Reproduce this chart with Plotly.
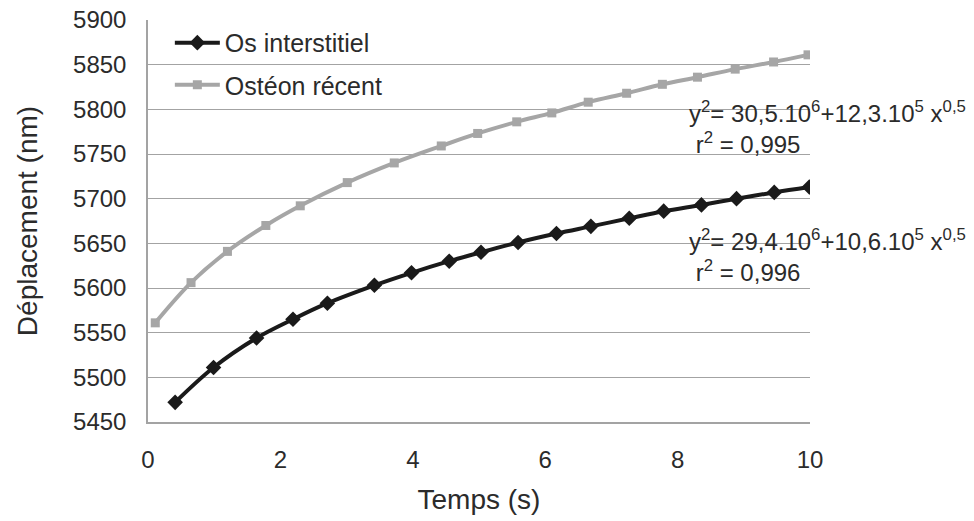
import plotly.graph_objects as go

# Os interstitiel (black, diamonds)
t_os = [0.41, 0.99, 1.64, 2.19, 2.71, 3.42, 3.98, 4.55, 5.03, 5.59, 6.17, 6.69, 7.27, 7.79, 8.36, 8.89, 9.46, 9.99]
d_os = [5472, 5511, 5544, 5565, 5583, 5603, 5617, 5630, 5640, 5651, 5661, 5669, 5678, 5686, 5693, 5700, 5707, 5713]

# Ostéon récent (grey, squares)
t_ost = [0.11, 0.65, 1.20, 1.78, 2.30, 3.01, 3.72, 4.43, 4.98, 5.57, 6.10, 6.65, 7.23, 7.77, 8.30, 8.87, 9.45, 9.97]
d_ost = [5561, 5606, 5641, 5670, 5692, 5718, 5740, 5759, 5773, 5786, 5796, 5808, 5818, 5828, 5836, 5845, 5853, 5861]

x_ticks = [0, 2, 4, 6, 8, 10]
y_ticks = [5450, 5500, 5550, 5600, 5650, 5700, 5750, 5800, 5850, 5900]

eq_ost = "y<sup>2</sup>= 30,5.10<sup>6</sup>+12,3.10<sup>5</sup> x<sup>0,5</sup><br> r<sup>2</sup> = 0,995"
eq_os = "y<sup>2</sup>= 29,4.10<sup>6</sup>+10,6.10<sup>5</sup> x<sup>0,5</sup><br> r<sup>2</sup> = 0,996"

FONT = "Liberation Sans, Arial, sans-serif"
TXT = "#2b2b2b"
GRID = "#a3a3a3"

fig = go.Figure()
fig.add_trace(go.Scatter(
    x=t_os, y=d_os, name="Os interstitiel", mode="lines+markers", legend="legend",
    line=dict(color="#1a1a1a", width=4, shape="spline"),
    marker=dict(symbol="diamond", size=12, color="#1a1a1a"),
))
fig.add_trace(go.Scatter(
    x=t_ost, y=d_ost, name="Ostéon récent", mode="lines+markers", legend="legend2",
    line=dict(color="#a6a6a6", width=4, shape="spline"),
    marker=dict(symbol="square", size=9, color="#a6a6a6"),
))

# white areas (between grid and traces) hiding grid lines behind legend and equations
white = dict(type="rect", xref="paper", yref="paper", fillcolor="white",
             line=dict(width=0), layer="between")
fig.add_shape(x0=0.033, x1=0.3625, y0=0.79, y1=0.975, **white)
fig.add_shape(x0=0.793, x1=1.0, y0=0.627, y1=0.826, **white)
fig.add_shape(x0=0.793, x1=1.0, y0=0.279, y1=0.502, **white)

fig.add_annotation(xref="paper", yref="y", x=0.815, y=5780, xanchor="left", yanchor="middle",
                   text=eq_ost, showarrow=False, align="left", borderpad=0,
                   font=dict(family=FONT, size=24, color=TXT))
fig.add_annotation(xref="paper", yref="y", x=0.815, y=5636, xanchor="left", yanchor="middle",
                   text=eq_os, showarrow=False, align="left", borderpad=0,
                   font=dict(family=FONT, size=24, color=TXT))

leg_common = dict(xanchor="left", yanchor="middle", bgcolor="rgba(0,0,0,0)",
                  font=dict(family=FONT, size=25, color=TXT), itemwidth=45)

fig.update_layout(
    width=974, height=521,
    margin=dict(l=148, r=164, t=20, b=99, autoexpand=False),
    plot_bgcolor="white", paper_bgcolor="white",
    font=dict(family=FONT, size=24, color=TXT),
    showlegend=True,
    legend=dict(x=0.033, y=0.943, **leg_common),
    legend2=dict(x=0.033, y=0.838, **leg_common),
)
fig.update_xaxes(range=[0, 10], tickvals=x_ticks, showgrid=False, showline=True,
                 linecolor=GRID, linewidth=1.5, ticks="", zeroline=False, ticklabelstandoff=15,
                 ticklabeloverflow="allow", automargin=False,
                 title=dict(text="Temps (s)", font=dict(size=28), standoff=18),
                 tickfont=dict(size=24))
fig.update_yaxes(range=[5450, 5900], tickvals=y_ticks, showgrid=True, gridcolor=GRID,
                 gridwidth=1.2, showline=True, linecolor=GRID, linewidth=1.5, ticks="",
                 zeroline=False, ticklabelstandoff=15, ticklabeloverflow="allow", automargin=False,
                 title=dict(text="Déplacement (nm)", font=dict(size=28), standoff=27),
                 tickfont=dict(size=24))

fig.write_html("out.html", config={"displayModeBar": False},
               post_script="document.body.style.margin='0';")
